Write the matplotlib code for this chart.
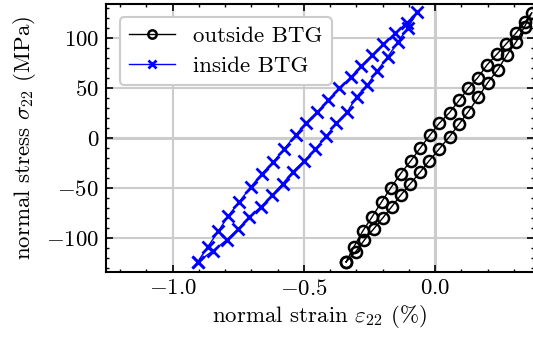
import matplotlib
matplotlib.use("Agg")
import matplotlib.pyplot as plt

plt.rcParams['font.family'] = ['cmr10']
plt.rcParams['mathtext.fontset'] = 'cm'
plt.rcParams['axes.formatter.use_mathtext'] = True
plt.rcParams['axes.unicode_minus'] = True

# outside BTG (black circles): loading branch then unloading branch
out_strain = [-0.339, -0.309, -0.276, -0.240, -0.203, -0.168, -0.131, -0.092, -0.057, -0.019,
              0.016, 0.055, 0.093, 0.127, 0.163, 0.198, 0.236, 0.271, 0.308, 0.344, 0.369,
              0.341, 0.310, 0.275, 0.239, 0.200, 0.165, 0.127, 0.092, 0.055, 0.016,
              -0.022, -0.057, -0.094, -0.131, -0.165, -0.199, -0.234, -0.269, -0.302, -0.339]
out_stress = [-124.2, -108.8, -93.4, -79.0, -63.7, -49.6, -35.6, -22.6, -10.1, 3.2,
              14.9, 25.6, 38.3, 50.0, 60.7, 73.4, 84.2, 94.5, 105.2, 116.8, 125.9,
              111.8, 96.8, 83.8, 68.6, 55.4, 41.0, 26.6, 14.2, 1.5, -10.8,
              -22.6, -34.2, -45.6, -57.3, -68.7, -80.0, -91.1, -102.1, -113.8, -124.2]

# inside BTG (blue crosses)
in_strain = [-0.905, -0.867, -0.826, -0.788, -0.746, -0.703, -0.661, -0.616, -0.575, -0.531,
             -0.493, -0.450, -0.407, -0.365, -0.321, -0.282, -0.239, -0.197, -0.151, -0.108, -0.067,
             -0.104, -0.142, -0.180, -0.220, -0.258, -0.299, -0.334, -0.376, -0.414, -0.456,
             -0.498, -0.542, -0.581, -0.620, -0.663, -0.708, -0.750, -0.794, -0.845, -0.905]
in_stress = [-124.2, -109.4, -93.4, -78.0, -63.7, -49.2, -35.9, -23.6, -10.8, 3.2,
             14.9, 26.0, 38.3, 50.1, 61.1, 72.4, 83.5, 94.5, 105.2, 115.8, 126.3,
             110.8, 96.2, 81.7, 67.7, 53.4, 41.6, 26.6, 14.9, 2.2, -10.8,
             -22.6, -33.6, -45.9, -56.9, -68.7, -79.3, -90.8, -102.1, -112.8, -124.2]

labels = ['outside BTG', 'inside BTG']

FS = 16.5
W, H = 533, 337
fig = plt.figure(figsize=(W / 100, H / 100), dpi=100)
ax = fig.add_axes([106 / W, (H - 271.7) / H, (534 - 106) / W, (271.7 - 3.5) / H])

ax.grid(True, which='major', color='#cccccc', linewidth=1.5, zorder=0)
ax.axhline(0, color='black', linewidth=1.0, zorder=1)
ax.axvline(0, color='black', linewidth=1.0, zorder=1)

ax.plot(out_strain, out_stress, color='black', marker='o', markersize=8,
        markerfacecolor='none', markeredgewidth=1.8, linewidth=1.0, label=labels[0], zorder=3)
ax.plot(in_strain, in_stress, color='blue', marker='x', markersize=8,
        markeredgewidth=2.0, linewidth=1.0, label=labels[1], zorder=3)

ax.set_xlim(-1.254, 0.377)
ax.set_ylim(-134, 135)
ax.set_xticks([-1.0, -0.5, 0.0])
ax.set_yticks([-100, -50, 0, 50, 100])
ax.set_xticks([i / 10 for i in range(-12, 4)], minor=True)
ax.set_yticks(list(range(-130, 135, 10)), minor=True)
ax.tick_params(which='both', direction='in', top=True, right=True, labelsize=FS)
ax.tick_params(which='major', length=5, width=1.2, pad=5)
ax.tick_params(which='minor', length=2.5, width=1.0)
for s in ax.spines.values():
    s.set_linewidth(1.5)

ax.set_xlabel(r'normal strain $\varepsilon_{22}$ (%)', fontsize=FS, labelpad=3)
ax.set_ylabel(r'normal stress $\sigma_{22}$ (MPa)', fontsize=FS, labelpad=6)

leg = ax.legend(loc='upper left', fontsize=FS, frameon=True, fancybox=True,
                edgecolor='#cccccc', framealpha=1.0, handlelength=2.0,
                borderaxespad=0.6, borderpad=0.4, labelspacing=0.4, markerscale=0.75)
leg.get_frame().set_linewidth(1.5)

fig.savefig('out.png', dpi=100)
